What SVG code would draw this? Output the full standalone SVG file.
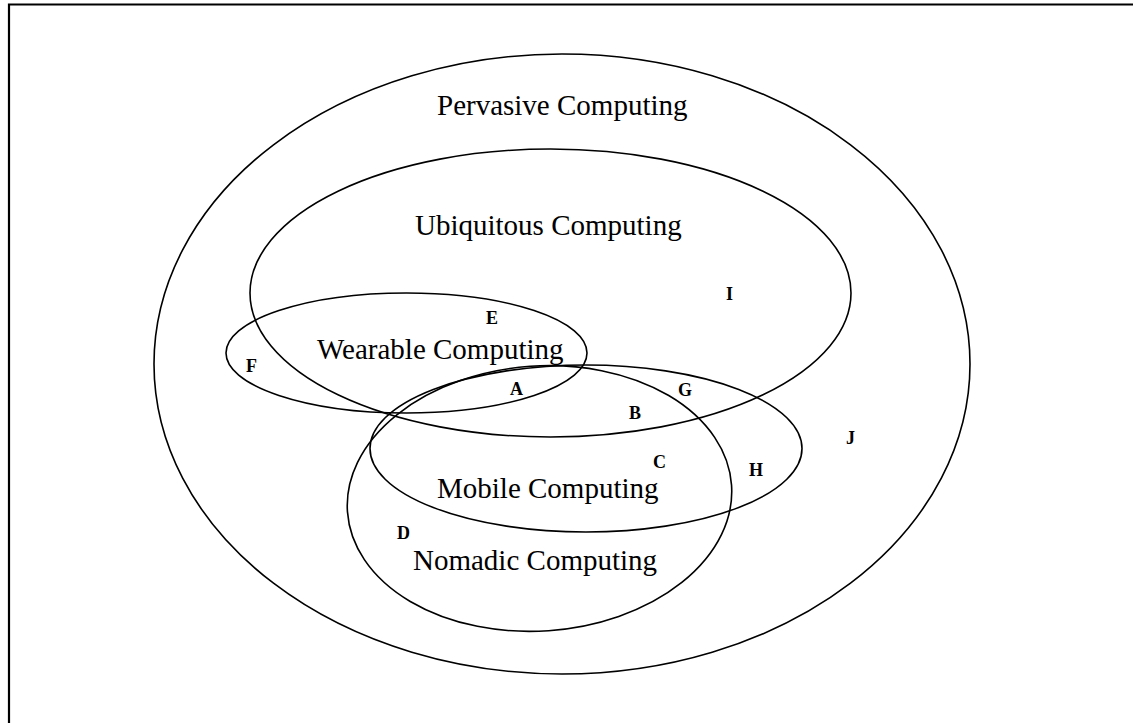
<svg xmlns="http://www.w3.org/2000/svg" width="1133" height="723" viewBox="0 0 1133 723">
<style>
.set{fill:none;stroke:#000;stroke-width:1.6}
.lbl{font-family:"Liberation Serif","Times New Roman",serif;font-size:29px;fill:#000}
.reg{font-family:"Liberation Serif","Times New Roman",serif;font-size:18px;font-weight:bold;fill:#000}
</style>
<rect width="1133" height="723" fill="#fff"/>
<path d="M9,723 V4.5 H1133" fill="none" stroke="#000" stroke-width="2.2"/>
<g id="pervasive">
<ellipse class="set" cx="562" cy="364" rx="408" ry="310"/>
<text class="lbl" x="437" y="115">Pervasive Computing</text>
</g>
<g id="ubiquitous">
<ellipse class="set" cx="550.5" cy="293" rx="300.5" ry="144"/>
<text class="lbl" x="415" y="235">Ubiquitous Computing</text>
</g>
<g id="wearable">
<ellipse class="set" cx="406.5" cy="353" rx="180.5" ry="60"/>
<text class="lbl" x="317" y="359">Wearable Computing</text>
</g>
<g id="mobile">
<ellipse class="set" cx="586" cy="448.5" rx="216" ry="83.5"/>
<text class="lbl" x="437" y="498">Mobile Computing</text>
</g>
<g id="nomadic">
<ellipse class="set" cx="539.5" cy="498.5" rx="192.5" ry="132.5" transform="rotate(-4 539.5 498.5)"/>
<text class="lbl" x="413" y="570">Nomadic Computing</text>
</g>
<g id="regions">
<text class="reg" x="486" y="324">E</text>
<text class="reg" x="246" y="372">F</text>
<text class="reg" x="510" y="395">A</text>
<text class="reg" x="629" y="419">B</text>
<text class="reg" x="678" y="396">G</text>
<text class="reg" x="653" y="468">C</text>
<text class="reg" x="749" y="476">H</text>
<text class="reg" x="397" y="539">D</text>
<text class="reg" x="726" y="300">I</text>
<text class="reg" x="846" y="444">J</text>
</g>
<g id="connectors"/>
</svg>
